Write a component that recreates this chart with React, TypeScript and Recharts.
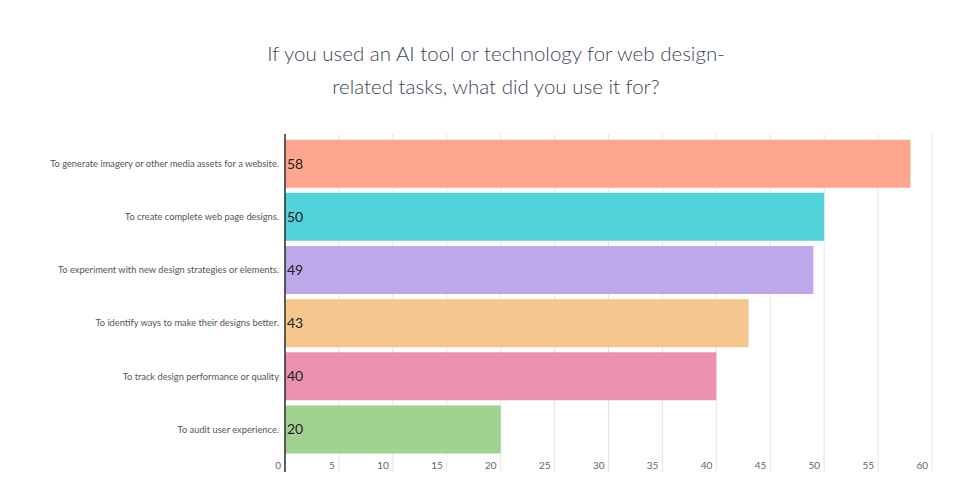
import React from "react";
import { BarChart, Bar, XAxis, YAxis, CartesianGrid, LabelList, Cell } from "recharts";

const categories = [
  "To generate imagery or other media assets for a website.",
  "To create complete web page designs.",
  "To experiment with new design strategies or elements.",
  "To identify ways to make their designs better.",
  "To track design performance or quality",
  "To audit user experience.",
];
const values = [58, 50, 49, 43, 40, 20];
const colors = ["#FEA58E", "#51D3D9", "#BDA9EA", "#F5C78E", "#EA90B1", "#A2D28F"];
const xTicks = [0, 5, 10, 15, 20, 25, 30, 35, 40, 45, 50, 55, 60];
const titleLines = [
  "If you used an AI tool or technology for web design-",
  "related tasks, what did you use it for?",
];

const data = categories.map((c, i) => ({ name: c, value: values[i] }));

const YTick = (props: any) => {
  const { x, y, payload } = props;
  return (
    <text x={x + 2} y={y} dy={3.3} textAnchor="end" fontSize={9.3} fill="#555" fontFamily="Lato, sans-serif">
      {payload.value}
    </text>
  );
};

const XTick = (props: any) => {
  const { x, y, payload } = props;
  return (
    <text x={x - 4} y={y - 3} textAnchor="end" fontSize={10} fill="#666" fontFamily="Lato, sans-serif">
      {payload.value}
    </text>
  );
};

export default function App() {
  return (
    <div style={{ position: "absolute", left: 0, top: 0, width: 975, height: 494, background: "#fff" }}>
      <div
        style={{
          position: "absolute",
          left: 0,
          top: 37,
          width: 992,
          textAlign: "center",
          fontFamily: "Lato, sans-serif",
          fontWeight: 300,
          fontSize: 20.5,
          lineHeight: "33px",
          color: "#3c4654",
        }}
      >
        {titleLines.map((t, i) => (
          <div key={i}>{t}</div>
        ))}
      </div>
      <div style={{ position: "absolute", left: 0, top: 0 }}>
        <BarChart
          width={975}
          height={494}
          data={data}
          layout="vertical"
          margin={{ top: 134, right: 43, bottom: 2, left: 0 }}
          barCategoryGap="5%"
        >
          <CartesianGrid horizontal={false} vertical={true} stroke="#e6e6e6" />
          <XAxis
            type="number"
            domain={[0, 60]}
            ticks={xTicks}
            axisLine={false}
            tickLine={false}
            tickSize={0}
            tickMargin={0}
            height={20}
            tick={<XTick />}
            interval={0}
          />
          <YAxis
            type="category"
            dataKey="name"
            width={285}
            axisLine={{ stroke: "#2d2d2d", strokeWidth: 1.5 }}
            tickLine={false}
            tick={<YTick />}
            padding={{ top: 3, bottom: 16 }}
            interval={0}
          />
          <Bar dataKey="value" isAnimationActive={false}>
            {data.map((d, i) => (
              <Cell key={i} fill={colors[i]} />
            ))}
            <LabelList
              dataKey="value"
              position="insideLeft"
              offset={2}
              fill="#222"
              fontSize={14}
              fontFamily="Lato, sans-serif"
            />
          </Bar>
        </BarChart>
      </div>
    </div>
  );
}
